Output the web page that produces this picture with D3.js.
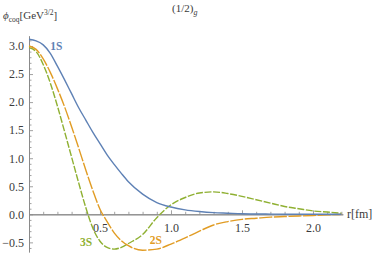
<!DOCTYPE html>
<html><head><meta charset="utf-8">
<script src="https://cdn.jsdelivr.net/npm/d3@7"></script>
<style>
html,body{margin:0;padding:0;background:#fff;}
</style></head>
<body><div id="chart"></div>
<script>
const rGrid = [0,0.05,0.1,0.15,0.2,0.25,0.3,0.35,0.4,0.45,0.5,0.55,0.6,0.65,0.7,0.8,0.9,1.0,1.1,1.2,1.3,1.4,1.5,1.6,1.7,1.8,1.9,2.0,2.1,2.2];
const phi1S = [3.12,3.09,3.02,2.87,2.64,2.40,2.15,1.90,1.68,1.46,1.26,1.06,0.89,0.73,0.58,0.36,0.21,0.13,0.08,0.05,0.03,0.02,0.01,0.006,0.004,0.002,0.001,0.0,0.0,0.0];
const phi2S = [3.00,2.94,2.77,2.53,2.24,1.92,1.56,1.18,0.79,0.42,0.09,-0.13,-0.33,-0.47,-0.56,-0.64,-0.62,-0.53,-0.42,-0.30,-0.19,-0.13,-0.09,-0.07,-0.05,-0.04,-0.03,-0.02,-0.01,0.0];
const phi3S = [2.97,2.90,2.67,2.34,1.93,1.48,1.02,0.56,0.12,-0.25,-0.48,-0.59,-0.62,-0.59,-0.52,-0.36,-0.06,0.17,0.30,0.38,0.40,0.37,0.32,0.26,0.20,0.14,0.10,0.06,0.04,0.02];
const seriesNames = ["1S","2S","3S"];
const xMajorTicks = [0.5,1.0,1.5,2.0];
const yMajorTicks = [-0.5,0.0,0.5,1.0,1.5,2.0,2.5,3.0];

const W = 374, H = 254;
const FONT = "'Liberation Serif','DejaVu Serif',serif";
const svg = d3.select("#chart").append("svg").attr("width",W).attr("height",H);
const x = d3.scaleLinear().domain([0,2.21]).range([29,342.8]);
const y = d3.scaleLinear().domain([-0.67,3.18]).range([251.9,35.9]);
const axisColor = "#8a8a8a";
const textColor = "#3a3a3a";

const xMinor = d3.range(1,23).map(i=>i/10).filter(v=>!xMajorTicks.some(m=>Math.abs(m-v)<1e-9));
const yMinor = d3.range(-6,32).map(i=>i/10).filter(v=>!yMajorTicks.some(m=>Math.abs(m-v)<1e-9));

const gx = svg.append("g").attr("transform",`translate(0,${y(0)})`)
  .call(d3.axisBottom(x).tickValues(xMajorTicks).tickFormat(d3.format(".1f")).tickSizeInner(-4).tickSizeOuter(0).tickPadding(9));
const gxm = svg.append("g").attr("transform",`translate(0,${y(0)})`)
  .call(d3.axisBottom(x).tickValues(xMinor).tickFormat("").tickSizeInner(-2.5).tickSizeOuter(0));
const gy = svg.append("g").attr("transform",`translate(${x(0)},0)`)
  .call(d3.axisLeft(y).tickValues(yMajorTicks).tickFormat(d3.format(".1f")).tickSizeInner(-4).tickSizeOuter(0).tickPadding(5));
const gym = svg.append("g").attr("transform",`translate(${x(0)},0)`)
  .call(d3.axisLeft(y).tickValues(yMinor).tickFormat("").tickSizeInner(-2.5).tickSizeOuter(0));
[gx,gxm,gy,gym].forEach(g=>{
  g.attr("font-family",FONT);
  g.selectAll("path.domain").attr("stroke",axisColor).attr("stroke-width",1);
  g.selectAll(".tick line").attr("stroke",axisColor).attr("stroke-width",0.8);
  g.selectAll(".tick text").attr("fill",textColor).attr("font-size",12)
   .style("font-family",FONT);
});

const colors = {"1S":"#5E81B5","2S":"#E19C24","3S":"#8FB032"};
const dashes = {"1S":null,"2S":"13,1.6","3S":"7,1.6"};
const values = {"1S":phi1S,"2S":phi2S,"3S":phi3S};
const line = d3.line().x(d=>x(d[0])).y(d=>y(d[1])).curve(d3.curveMonotoneX);
["3S","2S","1S"].forEach(n=>{
  svg.append("path").datum(rGrid.map((r,i)=>[r,values[n][i]]))
    .attr("d",line).attr("fill","none").attr("stroke",colors[n])
    .attr("stroke-width",1.4).attr("stroke-dasharray",dashes[n]);
});

const labelPos = {"1S":[0.15,2.93],"2S":[0.85,-0.53],"3S":[0.36,-0.56]};
seriesNames.forEach(n=>{
  svg.append("text").attr("x",x(labelPos[n][0])).attr("y",y(labelPos[n][1]))
    .attr("fill",colors[n]).attr("font-size",11.5).attr("font-weight","bold")
    .style("font-family",FONT).text(n);
});

const yl = svg.append("text").attr("x",3).attr("y",19).attr("fill",textColor).attr("font-size",11).style("font-family",FONT);
yl.append("tspan").attr("font-style","italic").text("ϕ");
yl.append("tspan").attr("font-size",7.5).attr("dy",2.5).text("coq");
yl.append("tspan").attr("dy",-2.5).text("[GeV");
yl.append("tspan").attr("font-size",7.5).attr("dy",-4).text("3/2");
yl.append("tspan").attr("dy",4).text("]");

svg.append("text").attr("x",347).attr("y",218).attr("fill",textColor).attr("font-size",12).style("font-family",FONT).text("r[fm]");

const tt = svg.append("text").attr("x",172).attr("y",12).attr("fill",textColor).attr("font-size",11).style("font-family",FONT);
tt.append("tspan").text("(1/2)");
tt.append("tspan").attr("font-style","italic").attr("font-size",8).attr("dy",2.5).text("g");
</script></body></html>
